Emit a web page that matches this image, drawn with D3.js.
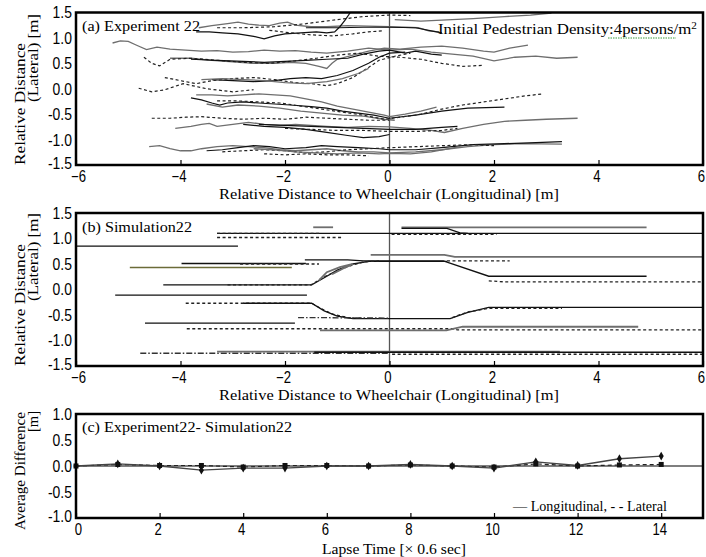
<!DOCTYPE html>
<html>
<head>
<meta charset="utf-8">
<script src="https://cdn.jsdelivr.net/npm/d3@7"></script>
<style>
  body { margin: 0; background: #fff; }
  .tick text { font-family: "Liberation Sans", Arimo, sans-serif; font-size: 16px; fill: #000; }
  .lbl { font-family: "Liberation Serif", "DejaVu Serif", serif; font-size: 15px; fill: #000; }
</style>
</head>
<body>
<div id="chart"></div>
<script>
var W = 706, H = 557;

// (a) Experiment 22 trajectories, [longitudinal, lateral] in metres
// style: g = gray solid, s = black solid, d = dashed
var expTracks = [
  {style: "g", pts: [[-3.65,1.2],[-3.4,1.24],[-3.1,1.28],[-2.9,1.31],[-2.7,1.27],[-2.5,1.25],[-2.3,1.24],[-2.1,1.29],[-1.95,1.31],[-1.8,1.25],[-1.5,1.22],[-1.2,1.22],[-0.8,1.24],[-0.4,1.23],[0,1.22],[0.3,1.21],[0.55,1.2],[0.75,1.14],[0.95,1.12]]},
  {style: "s", pts: [[-3.7,1.12],[-3.45,1.12],[-3.2,1.1],[-2.9,1.08],[-2.6,1.03],[-2.4,0.98],[-2.2,1.04],[-2.0,1.08],[-1.7,1.1],[-1.4,1.12],[-1.2,1.1],[-1.05,1.12],[-0.95,1.22],[-0.85,1.35],[-0.75,1.5]]},
  {style: "d", pts: [[-3.3,1.2],[-2.8,1.2],[-2.2,1.22],[-1.6,1.28],[-1.0,1.36],[-0.5,1.42],[0,1.45],[0.4,1.44]]},
  {style: "g", pts: [[0.1,1.36],[0.6,1.33],[1.0,1.35],[1.6,1.38],[2.2,1.42],[2.7,1.45],[3.1,1.49]]},
  {style: "d", pts: [[-2.3,1.15],[-1.9,1.1],[-1.5,1.06],[-1.1,1.04],[-0.7,1.08],[-0.4,1.12],[-0.1,1.14]]},
  {style: "s", pts: [[-1.6,1.2],[-1.0,1.2],[-0.5,1.21],[0,1.21],[0.5,1.2],[0.8,1.14],[1.0,1.1]]},
  {style: "g", pts: [[-5.3,0.9],[-5.15,0.94],[-5.0,0.93],[-4.85,0.86],[-4.65,0.77],[-4.45,0.82],[-4.2,0.78],[-3.9,0.76],[-3.6,0.74],[-3.3,0.75],[-3.0,0.72],[-2.7,0.73],[-2.4,0.76],[-2.1,0.74],[-1.8,0.75],[-1.5,0.72],[-1.2,0.7],[-0.8,0.74],[-0.4,0.8],[0,0.76],[0.4,0.78],[0.8,0.72],[1.2,0.68],[1.6,0.64],[2.0,0.55],[2.4,0.62],[2.8,0.64],[3.2,0.6],[3.6,0.62]]},
  {style: "g", pts: [[-4.2,0.6],[-3.8,0.6],[-3.4,0.56],[-3.0,0.53],[-2.6,0.5],[-2.2,0.5],[-1.9,0.52],[-1.6,0.5],[-1.35,0.44],[-1.2,0.4],[-1.1,0.5],[-1.0,0.58],[-0.7,0.66],[-0.4,0.74],[-0.1,0.8],[0.2,0.78],[0.6,0.82],[1.0,0.84],[1.4,0.8],[1.8,0.74],[2.0,0.72],[2.3,0.8],[2.65,0.86]]},
  {style: "d", pts: [[-4.7,0.62],[-4.55,0.5],[-4.4,0.45],[-4.2,0.58],[-3.8,0.6],[-3.3,0.56],[-2.8,0.52],[-2.3,0.5],[-1.8,0.55],[-1.4,0.6],[-1.0,0.66],[-0.6,0.7],[-0.2,0.64],[0.2,0.62],[0.6,0.58],[1.0,0.5],[1.4,0.44],[1.8,0.46]]},
  {style: "s", pts: [[-3.8,0.58],[-3.3,0.56],[-2.8,0.54],[-2.4,0.52],[-2.0,0.54],[-1.6,0.56],[-1.2,0.58],[-0.8,0.6],[-0.5,0.68],[-0.2,0.74],[0,0.76],[0.3,0.7],[0.5,0.74],[0.8,0.68],[1.0,0.66]]},
  {style: "s", pts: [[-3.4,0.18],[-3.0,0.16],[-2.6,0.14],[-2.2,0.16],[-1.9,0.2],[-1.6,0.22],[-1.3,0.2],[-1.0,0.26],[-0.7,0.36],[-0.4,0.5],[-0.2,0.62],[0,0.7],[0.3,0.72]]},
  {style: "d", pts: [[-4.3,0.22],[-4.0,0.16],[-3.7,0.1],[-3.4,0.16],[-3.0,0.2],[-2.6,0.22],[-2.2,0.18],[-1.8,0.12],[-1.5,0.1],[-1.2,0.06],[-1.0,0.1],[-0.7,0.22],[-0.4,0.42],[-0.2,0.56],[0.1,0.64],[0.4,0.7]]},
  {style: "g", pts: [[-3.6,0.18],[-3.2,0.2],[-2.8,0.18],[-2.4,0.16],[-2.0,0.12],[-1.6,0.1],[-1.2,0.14],[-0.9,0.2],[-0.6,0.3],[-0.4,0.4]]},
  {style: "d", pts: [[-4.8,0.01],[-4.55,-0.06],[-4.3,-0.02],[-3.95,0.1],[-3.5,0.0],[-3.0,-0.06],[-2.6,-0.02]]},
  {style: "g", pts: [[-3.7,-0.12],[-3.4,-0.12],[-3.1,-0.14],[-2.8,-0.12],[-2.5,-0.1],[-2.2,-0.12],[-1.9,-0.14],[-1.6,-0.2],[-1.3,-0.26],[-1.0,-0.34],[-0.7,-0.4],[-0.4,-0.46],[-0.1,-0.52],[0,-0.55],[0.3,-0.5],[0.6,-0.44],[0.9,-0.36]]},
  {style: "s", pts: [[-3.8,-0.18],[-3.6,-0.22],[-3.4,-0.28],[-3.25,-0.32],[-3.1,-0.28],[-2.8,-0.26],[-2.5,-0.28],[-2.2,-0.3],[-1.9,-0.32],[-1.5,-0.35],[-1.2,-0.38],[-0.9,-0.44],[-0.6,-0.48],[-0.3,-0.52],[0,-0.58],[0.5,-0.52],[1.0,-0.44],[1.5,-0.38],[2.2,-0.36]]},
  {style: "g", pts: [[-3.5,-0.3],[-3.2,-0.36],[-2.9,-0.32],[-2.5,-0.34],[-2.1,-0.38],[-1.7,-0.44],[-1.3,-0.48],[-0.9,-0.52],[-0.5,-0.54],[-0.1,-0.6],[0.1,-0.62]]},
  {style: "d", pts: [[-3.3,-0.24],[-2.9,-0.24],[-2.5,-0.26],[-2.1,-0.28],[-1.7,-0.34],[-1.3,-0.4],[-0.9,-0.46],[-0.5,-0.52],[-0.1,-0.6],[0.2,-0.56],[0.6,-0.5],[1.0,-0.4],[1.4,-0.32],[1.8,-0.26],[2.2,-0.2],[2.6,-0.14],[2.95,-0.1]]},
  {style: "d", pts: [[-4.55,-0.58],[-4.2,-0.58],[-3.9,-0.56],[-3.6,-0.55],[-3.2,-0.58],[-2.8,-0.6],[-2.4,-0.58],[-2.0,-0.6],[-1.6,-0.56],[-1.2,-0.58],[-0.8,-0.6],[-0.4,-0.62],[0,-0.62]]},
  {style: "g", pts: [[-4.1,-0.78],[-3.8,-0.74],[-3.6,-0.7],[-3.45,-0.68],[-3.3,-0.74],[-3.0,-0.7],[-2.7,-0.66],[-2.4,-0.7],[-2.1,-0.72],[-1.8,-0.7],[-1.5,-0.72],[-1.2,-0.74],[-0.8,-0.76],[-0.4,-0.74],[0,-0.75],[0.4,-0.78],[0.8,-0.82],[1.05,-0.86],[1.4,-0.78],[1.8,-0.7],[2.2,-0.64],[2.6,-0.62],[3.0,-0.6],[3.6,-0.58]]},
  {style: "s", pts: [[-2.8,-0.7],[-2.4,-0.74],[-2.0,-0.76],[-1.6,-0.8],[-1.2,-0.86],[-0.8,-0.92],[-0.5,-0.96],[-0.2,-0.94],[0,-0.9]]},
  {style: "s", pts: [[-2.5,-0.7],[-2.0,-0.72],[-1.5,-0.74],[-1.0,-0.76],[-0.5,-0.78],[0,-0.8],[0.5,-0.8],[1.0,-0.76],[1.3,-0.74]]},
  {style: "d", pts: [[-2.0,-0.78],[-1.5,-0.8],[-1.0,-0.82],[-0.5,-0.82],[0,-0.84],[0.5,-0.84],[1.0,-0.82],[1.3,-0.78]]},
  {style: "g", pts: [[-4.6,-1.14],[-4.4,-1.12],[-4.2,-1.18],[-4.0,-1.22],[-3.8,-1.22],[-3.6,-1.18],[-3.3,-1.14],[-3.0,-1.12],[-2.7,-1.14],[-2.4,-1.16],[-2.1,-1.2],[-1.8,-1.22],[-1.5,-1.2],[-1.2,-1.18],[-0.9,-1.22],[-0.6,-1.24],[-0.3,-1.24],[0,-1.26],[0.5,-1.24],[1.0,-1.2],[1.5,-1.14],[2.0,-1.1],[2.5,-1.08],[3.3,-1.09]]},
  {style: "s", pts: [[-3.5,-1.22],[-3.2,-1.2],[-2.9,-1.16],[-2.6,-1.12],[-2.3,-1.14],[-2.0,-1.18],[-1.6,-1.16],[-1.3,-1.12],[-1.0,-1.14],[-0.6,-1.16],[-0.2,-1.18],[0,-1.2],[0.5,-1.2],[1.0,-1.16],[1.6,-1.1],[2.2,-1.08],[2.8,-1.06],[3.3,-1.04]]},
  {style: "d", pts: [[-3.2,-1.24],[-2.8,-1.22],[-2.4,-1.2],[-2.0,-1.22],[-1.6,-1.26],[-1.2,-1.24],[-0.8,-1.2],[-0.4,-1.18],[0,-1.16],[0.5,-1.14],[1.0,-1.12],[1.6,-1.1],[2.0,-1.12]]},
  {style: "g", pts: [[-2.6,-1.18],[-2.2,-1.2],[-1.8,-1.24],[-1.4,-1.26],[-1.0,-1.28],[-0.6,-1.26],[-0.2,-1.28],[0,-1.27],[0.4,-1.28],[0.8,-1.24],[1.35,-1.14]]},
  {style: "d", pts: [[-2.4,-1.28],[-2.0,-1.3],[-1.6,-1.28],[-1.2,-1.3],[-0.8,-1.3],[-0.4,-1.32]]}
];

// (b) Simulation 22 trajectories
// style: g = gray, s = black, d = dotted, dd = dash-dot, o = olive
var simTracks = [
  {style: "g", pts: [[-1.46,1.22],[-1.08,1.22]]},
  {style: "g", pts: [[0.23,1.22],[4.92,1.22]]},
  {style: "s", pts: [[0.23,1.2],[1.1,1.2],[1.35,1.11],[1.5,1.1]]},
  {style: "s", pts: [[-3.3,1.1],[6,1.1]]},
  {style: "d", pts: [[-3.3,1.1],[-1.3,1.1]]},
  {style: "d", pts: [[-3.3,1.02],[-0.89,1.02]]},
  {style: "d", pts: [[0.04,1.08],[2.05,1.08]]},
  {style: "s", pts: [[-6,0.85],[-2.9,0.85]]},
  {style: "s", pts: [[-3.98,0.51],[-1.6,0.51]]},
  {style: "d", pts: [[-2.86,0.5],[-1.35,0.5]]},
  {style: "o", pts: [[-4.97,0.43],[-1.87,0.43]]},
  {style: "s", pts: [[-1.62,0.58],[-0.8,0.58],[-0.5,0.56],[1.03,0.56],[1.9,0.26],[4.92,0.26]]},
  {style: "g", pts: [[-0.36,0.68],[1.05,0.68],[1.25,0.64],[6,0.64]]},
  {style: "s", pts: [[-4.33,0.09],[-1.49,0.09],[-1.3,0.2],[-1.0,0.38],[-0.7,0.5],[-0.4,0.55],[1.1,0.55]]},
  {style: "d", pts: [[-3.1,0.09],[-1.5,0.09],[-1.3,0.22],[-1.1,0.32],[-0.8,0.45],[-0.5,0.54],[-0.2,0.56]]},
  {style: "g", pts: [[-1.35,0.18],[-1.2,0.34],[-0.95,0.44],[-0.7,0.5],[-0.85,0.43],[-1.1,0.3]]},
  {style: "d", pts: [[1.1,0.56],[2.3,0.56]]},
  {style: "d", pts: [[1.9,0.17],[2.2,0.15],[6,0.15]]},
  {style: "s", pts: [[-5.25,-0.11],[-1.58,-0.11]]},
  {style: "d", pts: [[-3.9,-0.27],[-1.49,-0.27],[-1.3,-0.38],[-1.1,-0.48],[-0.8,-0.55],[-0.5,-0.57]]},
  {style: "s", pts: [[-2.8,-0.27],[-1.49,-0.27],[-1.25,-0.42],[-1.0,-0.52],[-0.7,-0.57],[1.16,-0.57],[1.5,-0.45],[1.9,-0.35],[6,-0.35]]},
  {style: "dd", pts: [[-1.75,-0.55],[0,-0.56]]},
  {style: "d", pts: [[1.2,-0.55],[1.5,-0.44],[1.9,-0.37],[3.3,-0.37]]},
  {style: "s", pts: [[-4.68,-0.66],[-1.81,-0.66]]},
  {style: "d", pts: [[-3.88,-0.77],[1.2,-0.77],[1.3,-0.79],[6,-0.79]]},
  {style: "g", pts: [[-1.33,-0.8],[1.09,-0.8],[1.4,-0.73],[4.76,-0.73]]},
  {style: "dd", pts: [[-4.77,-1.25],[0,-1.25]]},
  {style: "g", pts: [[-3.3,-1.22],[3.26,-1.22]]},
  {style: "s", pts: [[-1.44,-1.23],[6,-1.23]]},
  {style: "d", pts: [[0.05,-1.27],[6,-1.27]]}
];

// (c) Experiment22 - Simulation22, average difference per lapse step
var lapseSteps = [0, 1, 2, 3, 4, 5, 6, 7, 8, 9, 10, 11, 12, 13, 14];
var diffLongitudinal = [0, 0.04, 0.0, -0.08, -0.04, -0.04, 0.0, 0.0, 0.03, 0.0, -0.04, 0.08, 0.01, 0.14, 0.19];
var diffLateral = [0, 0.03, 0.01, 0.01, -0.02, 0.01, 0.01, 0.0, 0.02, 0.0, -0.02, 0.04, 0.0, 0.02, 0.03];

var xTicksDist = [-6, -4, -2, 0, 2, 4, 6];
var yTicksDist = [-1.5, -1.0, -0.5, 0.0, 0.5, 1.0, 1.5];
var xTicksLapse = [0, 2, 4, 6, 8, 10, 12, 14];
var yTicksDiff = [-1.0, -0.5, 0.0, 0.5, 1.0];

var left = 76, right = 703;

var svg = d3.select("#chart").append("svg")
    .attr("width", W).attr("height", H)
    .style("background", "#fff");

var fmt = function(d) { return d.toFixed(1); };

var strokeOf = { g: "#6e6e6e", s: "#111", d: "#222", dd: "#333", o: "#6b6b38" };
var dashOf = { g: null, s: null, d: "3,2.5", dd: "6,2,1.5,2", o: null };

function drawFrame(x, y, xTicks, yTicks) {
    var g = svg.append("g");
    var d0 = x.domain()[0], y0 = y.domain()[0];
    g.append("g")
        .attr("transform", "translate(0," + y.range()[0] + ")")
        .call(d3.axisBottom(x).tickValues(xTicks).tickSizeInner(-5).tickSizeOuter(0).tickPadding(6).tickFormat(d3.format("d")))
        .call(function(a) { a.select(".domain").remove(); })
        .selectAll("text")
            .attr("transform", function(d) { return (d === d0 ? "translate(2,0)" : "translate(-2,0)") + " scale(0.82,1)"; });
    g.append("g")
        .attr("transform", "translate(" + left + ",0)")
        .call(d3.axisLeft(y).tickValues(yTicks).tickSize(0).tickPadding(5).tickFormat(fmt))
        .call(function(a) { a.select(".domain").remove(); })
        .selectAll("text")
            .attr("transform", function(d) { return (d === y0 ? "translate(0,-2)" : "") + " scale(0.82,1)"; })
            .style("font-size", "17px");
    g.selectAll(".tick line").attr("stroke", "#000").attr("stroke-width", 1.2);
}

function drawBox(x, y) {
    svg.append("rect")
        .attr("x", x.range()[0]).attr("y", y.range()[1])
        .attr("width", x.range()[1] - x.range()[0])
        .attr("height", y.range()[0] - y.range()[1])
        .attr("fill", "none").attr("stroke", "#000").attr("stroke-width", 2.5);
}

function drawTracks(tracks, x, y, widthOf) {
    var line = d3.line().x(function(d) { return x(d[0]); }).y(function(d) { return y(d[1]); });
    svg.append("g")
        .selectAll("path")
        .data(tracks)
        .enter()
        .append("path")
            .attr("d", function(d) { return line(d.pts); })
            .attr("fill", "none")
            .attr("stroke", function(d) { return strokeOf[d.style]; })
            .attr("stroke-width", function(d) { return widthOf[d.style]; })
            .attr("stroke-dasharray", function(d) { return dashOf[d.style]; });
}

function label(x, y, t, anchor, len) {
    var el = svg.append("text").attr("class", "lbl")
        .attr("x", x).attr("y", y)
        .attr("text-anchor", anchor || "start")
        .text(t);
    if (len) el.attr("textLength", len).attr("lengthAdjust", "spacingAndGlyphs");
    return el;
}

function yLabel(lines, ys, anchors, xs, lens) {
    lines.forEach(function(t, i) {
        svg.append("text").attr("class", "lbl")
            .attr("transform", "translate(" + xs[i] + "," + ys[i] + ") rotate(-90)")
            .attr("text-anchor", anchors[i])
            .attr("textLength", lens[i]).attr("lengthAdjust", "spacingAndGlyphs")
            .text(t);
    });
}

// ---------- (a) ----------
var xa = d3.scaleLinear().domain([-6, 6]).range([left, right]);
var ya = d3.scaleLinear().domain([-1.5, 1.5]).range([165, 12.5]);
svg.append("line").attr("x1", xa(0)).attr("x2", xa(0)).attr("y1", ya(-1.5)).attr("y2", ya(1.5))
    .attr("stroke", "#555").attr("stroke-width", 1.3);
drawTracks(expTracks, xa, ya, { g: 1.3, s: 1.2, d: 1.2 });
drawFrame(xa, ya, xTicksDist, yTicksDist);
drawBox(xa, ya);
label(82, 31, "(a) Experiment 22", "start", 118);
svg.append("text").attr("class", "lbl").attr("x", 697).attr("y", 34).attr("text-anchor", "end")
    .attr("textLength", 259).attr("lengthAdjust", "spacingAndGlyphs")
    .html('Initial Pedestrian Density:4persons/m<tspan dy="-5" style="font-size:10px">2</tspan>');
svg.append("line").attr("x1", 608).attr("x2", 676).attr("y1", 38).attr("y2", 38)
    .attr("stroke", "#3a9a3a").attr("stroke-width", 1.2).attr("stroke-dasharray", "1.5,1");
label(389, 199, "Relative Distance to Wheelchair (Longitudinal) [m]", "middle", 340);
yLabel(["Relative Distance", "(Lateral) [m]"], [104, 14], ["middle", "end"], [25, 38], [122, 88]);

// ---------- (b) ----------
var yb = d3.scaleLinear().domain([-1.5, 1.5]).range([366, 213]);
svg.append("line").attr("x1", xa(0)).attr("x2", xa(0)).attr("y1", yb(-1.5)).attr("y2", yb(1.5))
    .attr("stroke", "#555").attr("stroke-width", 1.3);
drawTracks(simTracks, xa, yb, { g: 1.8, s: 1.3, d: 1.3, dd: 1.3, o: 1.6 });
drawFrame(xa, yb, xTicksDist, yTicksDist);
drawBox(xa, yb);
label(82, 232, "(b) Simulation22", "start", 110);
label(389, 400, "Relative Distance to Wheelchair (Longitudinal) [m]", "middle", 340);
yLabel(["Relative Distance", "(Lateral) [m]"], [305, 213], ["middle", "end"], [25, 38], [122, 88]);

// ---------- (c) ----------
var xc = d3.scaleLinear().domain([0, 15]).range([left, right]);
var yc = d3.scaleLinear().domain([-1, 1]).range([518, 414]);
svg.append("line").attr("x1", xc(0)).attr("x2", xc(15)).attr("y1", yc(0)).attr("y2", yc(0))
    .attr("stroke", "#000").attr("stroke-width", 1.2);

var lineDiff = d3.line().x(function(d, i) { return xc(lapseSteps[i]); }).y(function(d) { return yc(d); });
svg.append("path").attr("d", lineDiff(diffLateral))
    .attr("fill", "none").attr("stroke", "#222").attr("stroke-width", 1.2).attr("stroke-dasharray", "4,3");
svg.append("path").attr("d", lineDiff(diffLongitudinal))
    .attr("fill", "none").attr("stroke", "#444").attr("stroke-width", 1.4);
svg.append("g").selectAll("rect")
    .data(diffLateral).enter().append("rect")
        .attr("x", function(d, i) { return xc(lapseSteps[i]) - 2.5; })
        .attr("y", function(d) { return yc(d) - 2.5; })
        .attr("width", 5).attr("height", 5).attr("fill", "#111");
svg.append("g").selectAll("path.mk")
    .data(diffLongitudinal).enter().append("path")
        .attr("d", d3.symbol().type(d3.symbolDiamond).size(22))
        .attr("transform", function(d, i) { return "translate(" + xc(lapseSteps[i]) + "," + yc(d) + ")"; })
        .attr("fill", "#111");
drawFrame(xc, yc, xTicksLapse, yTicksDiff);
drawBox(xc, yc);
label(82, 432, "(c) Experiment22- Simulation22", "start", 210);
label(667, 511, "\u2014 Longitudinal, - -  Lateral", "end", 154);
label(394, 554, "Lapse Time [\u00d7 0.6 sec]", "middle", 144);
yLabel(["Average Difference", "[m]"], [471, 411], ["middle", "end"], [25, 38], [118, 21]);
</script>
</body>
</html>
